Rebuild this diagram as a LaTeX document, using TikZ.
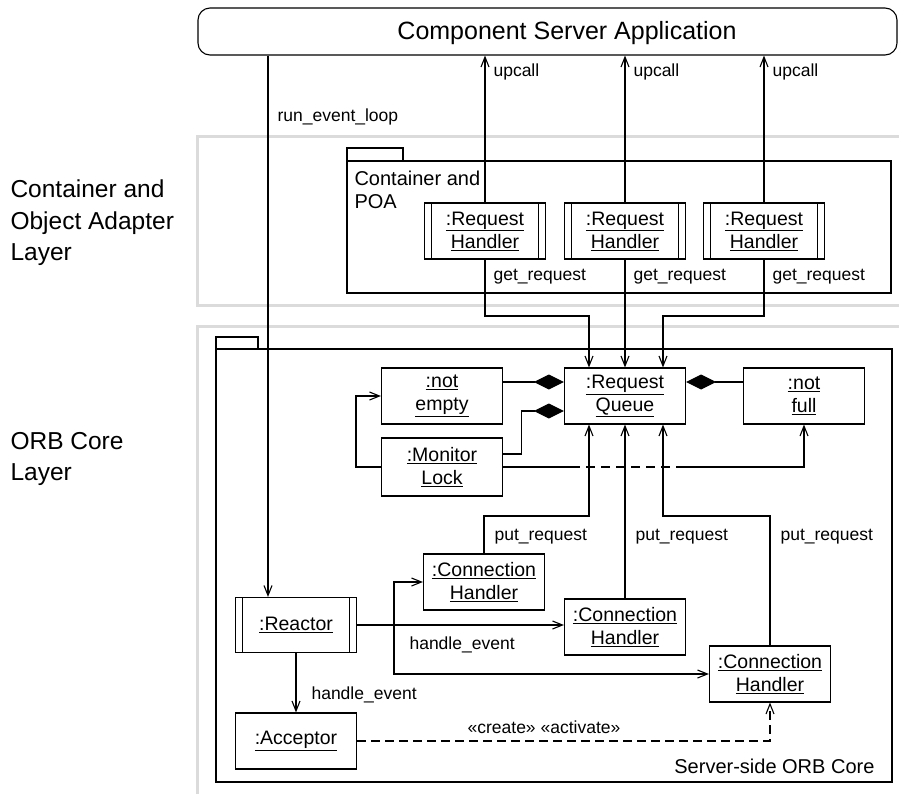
\documentclass[tikz,border=0pt]{standalone}
\usepackage{fontspec}
\setmainfont{Liberation Sans}
\usetikzlibrary{arrows.meta}

\newcommand{\objname}[2]{\underline{#1}\\\underline{#2}}

\begin{document}
\begin{tikzpicture}[x=1pt,y=-1pt,line width=1.1pt,
  obj/.style={draw,fill=white,minimum width=121pt,minimum height=56pt,align=center,inner sep=1pt,font=\fontsize{19.5}{23}\selectfont},
  active/.style={obj,path picture={
      \draw ([xshift=7pt]path picture bounding box.north west) -- ([xshift=7pt]path picture bounding box.south west);
      \draw ([xshift=-7pt]path picture bounding box.north east) -- ([xshift=-7pt]path picture bounding box.south east);}},
  lbl/.style={font=\fontsize{17.5}{21}\selectfont,inner sep=0pt},
  pkg/.style={font=\fontsize{20}{23}\selectfont,inner sep=0pt,align=left},
  layertxt/.style={font=\fontsize{24.5}{31.5}\selectfont,inner sep=0pt,align=left},
  arr/.style={-{Straight Barb[length=10pt,width=8pt]}},
  comp/.style={-{Diamond[length=30pt,width=15pt]}},
  layer/.style={draw=black!14,line width=3pt}]
\useasboundingbox (0,0) rectangle (899,793);

	\draw[layer] (197,136) rectangle (910,305);
	\draw[layer] (197,326) rectangle (910,810);

	\node[layertxt,anchor=north west] (laypoa) at (10,179.5) {Container and\\Object Adapter\\Layer};
	\node[layertxt,anchor=north west] (layorb) at (10,431.5) {ORB Core\\Layer};

            \node[draw,rounded corners=12pt,minimum width=699pt,minimum height=47pt] (app) at (547.5,31.5) {};
            \node[font=\fontsize{25}{30}\selectfont] (apptitle) at (567,33) {Component Server Application};

            % packages
            \draw (347,148) rectangle (403,161);
            \draw (347,161) rectangle (891,293);
            \node[pkg,anchor=north west] (poa) at (354,170) {Container and\\POA};

            \draw (216,337) rectangle (258,349);
            \draw (216,349) rectangle (892,782);
            \node[pkg,anchor=base east] (orb) at (875,773) {Server-side ORB Core};

            \foreach \n/\x in {rh1/485,rh2/625,rh3/764}{
              \node[active] (\n) at (\x,231) {\objname{:Request}{Handler}};
              \draw[arr] (\n.north) -- (\n.north |- app.south);
              \node[lbl,anchor=west] at ([xshift=8pt]\n.north |- 0,72) {upcall};
              \node[lbl,anchor=west] at ([xshift=8pt]\n.south |- 0,277) {get\_request};
            }

            \node[obj] (rq) at (625,396) {\objname{:Request}{Queue}};
            \node[obj] (ne) at (442,396) {\objname{:not}{empty}};
            \node[obj] (nf) at (804,396) {\objname{:not}{full}};
            \node[obj,minimum height=58pt] (ml) at (442,467) {\objname{:Monitor}{Lock}};

            \node[active,minimum height=55pt] (reactor) at (296,625) {\underline{:Reactor}};
            \node[obj] (ch1) at (484,582) {\objname{:Connection}{Handler}};
            \node[obj] (ch2) at (625,627) {\objname{:Connection}{Handler}};
            \node[obj] (ch3) at (770,674) {\objname{:Connection}{Handler}};
            \node[obj] (acc) at (296,741) {\underline{:Acceptor}};

            \draw[arr] (rh1.south) -- (rh1.south |- 0,316) -| ([xshift=-36pt]rq.north);
            \draw[arr] (rh2.south) -- (rq.north);
            \draw[arr] (rh3.south) -- (rh3.south |- 0,316) -| ([xshift=38pt]rq.north);

            \draw[arr] (ch1.north) -- (ch1.north |- 0,516) -| ([xshift=-36pt]rq.south);
            \draw[arr] (ch2.north) -- (rq.south);
            \draw[arr] (ch3.north) -- (ch3.north |- 0,516) -| ([xshift=38pt]rq.south);
            \foreach \n in {ch1,ch2,ch3}{
              \node[lbl,anchor=west] at ([xshift=10pt]\n.north |- 0,537) {put\_request};
            }

            \draw[comp] ([yshift=14pt]ne.east) -- ([yshift=14pt]rq.west);
            \draw[comp] ([yshift=14pt]nf.west) -- ([yshift=14pt]rq.east);
            \draw[comp] ([yshift=13pt]ml.east) -- ++(18,0) |- ([yshift=-15pt]rq.west);
            \draw[arr] (ml.west) -- ++(-25,0) |- (ne.west);

            \coordinate (gapa) at (571,467);
            \coordinate (gapb) at (682,467);
            \draw (ml.east) -- (gapa);
            \draw[dash pattern=on 9pt off 6pt] (gapa) -- (gapb);
            \draw[arr] (gapb) -| (nf.south);

            \coordinate (loopx) at (268,0);
            \draw[arr] (app.south -| loopx) -- (reactor.north -| loopx);
            \node[lbl,anchor=west] (rel) at (277,117) {run\_event\_loop};

            \coordinate (fork) at (394,625);
            \draw[arr] (reactor.east) -- (reactor.east -| ch2.west);
            \draw[arr] (fork) |- (ch1.west);
            \draw[arr] (fork) |- (ch3.west);
            \node[lbl,anchor=west] at (409,645) {handle\_event};

            \draw[arr] (reactor.south) -- (acc.north);
            \node[lbl,anchor=west] at (311,695) {handle\_event};

            \draw[arr,dash pattern=on 9pt off 5pt] (acc.east) -| (ch3.south);
            \node[lbl] at (544,727) {«create» «activate»};
        \end{tikzpicture}
\end{document}
